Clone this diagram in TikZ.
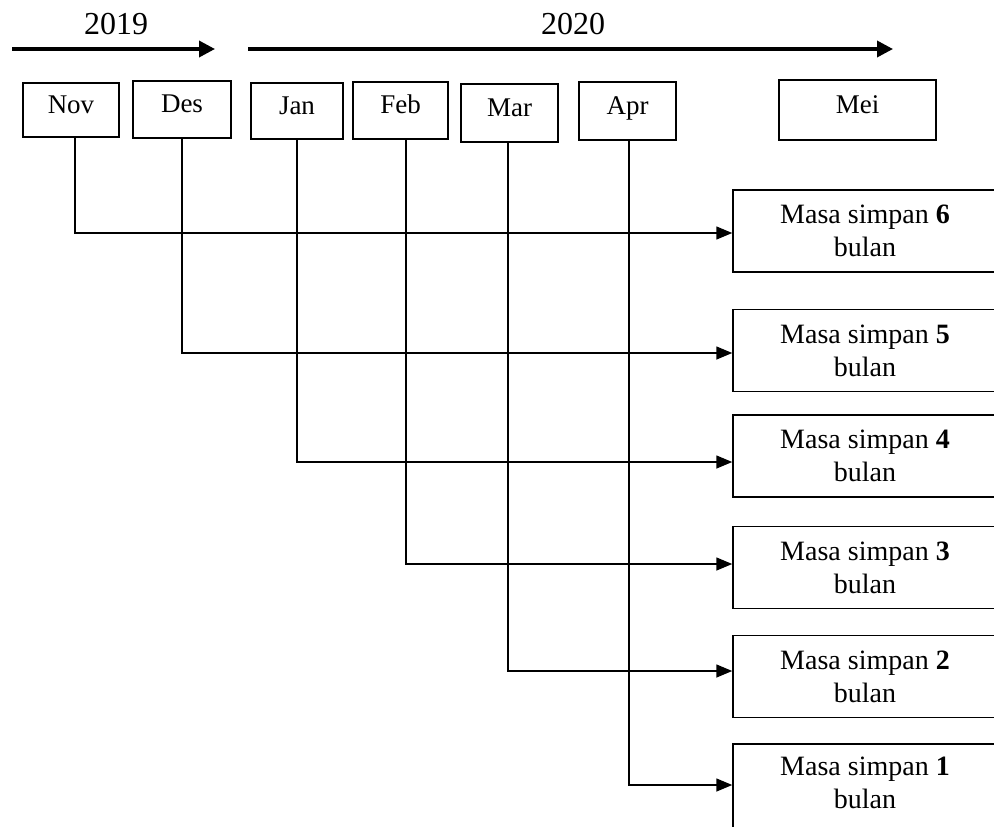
\documentclass[tikz,border=0pt]{standalone}
\usepackage{fontspec}
\setmainfont{Liberation Serif}
\usetikzlibrary{arrows.meta, positioning}

\begin{document}
\begin{tikzpicture}[
    x=1pt, y=-1pt,
    month/.style={rectangle, draw, line width=1.5pt, inner sep=0pt, text height=18pt, text depth=12pt, font=\fontsize{27}{32}\selectfont},
    shelf/.style={rectangle, draw, line width=1.5pt, inner sep=0pt, minimum width=264pt, minimum height=82pt, align=center, font=\fontsize{28}{33}\selectfont},
    year/.style={font=\fontsize{32}{36}\selectfont},
    arrow/.style={-{Triangle[length=16pt, width=13pt]}, line width=1.5pt},
    timeline/.style={-{Triangle[length=16pt, width=16pt]}, line width=3.5pt}
]
\useasboundingbox (0,0) rectangle (994,827);
\clip (0,0) rectangle (994,827);

% years
\node[year] (y2019) at (116,24) {2019};
\node[year] (y2020) at (573,24) {2020};
\coordinate (t19a) at (12,49);
\coordinate (t19b) at (215,49);
\coordinate (t20a) at (248,49);
\coordinate (t20b) at (893,49);
\draw[timeline] (t19a) -- (t19b);
\draw[timeline] (t20a) -- (t20b);

% months
\node[month, minimum width=96pt, minimum height=54pt] (nov) at (71,110) {Nov};
\node[month, minimum width=98pt, minimum height=57pt] (des) at (182,109.5) {Des};
\node[month, minimum width=92pt, minimum height=56pt] (jan) at (297,111) {Jan};
\node[month, minimum width=95pt, minimum height=57pt] (feb) at (400.5,110.5) {Feb};
\node[month, minimum width=97pt, minimum height=58pt] (mar) at (509.5,113) {Mar};
\node[month, minimum width=97pt, minimum height=58pt] (apr) at (627.5,111) {Apr};
\node[month, minimum width=157pt, minimum height=60pt] (mei) at (857.5,110) {Mei};

% shelf life
\node[shelf] (s6) at (865,231) {Masa simpan \textbf{6}\\ bulan};
\node[shelf] (s5) at (865,350.5) {Masa simpan \textbf{5}\\ bulan};
\node[shelf] (s4) at (865,456) {Masa simpan \textbf{4}\\ bulan};
\node[shelf] (s3) at (865,567.5) {Masa simpan \textbf{3}\\ bulan};
\node[shelf] (s2) at (865,676.5) {Masa simpan \textbf{2}\\ bulan};
\node[shelf, minimum height=90pt, text depth=12pt] (s1) at (865,789) {Masa simpan \textbf{1}\\ bulan};

\draw[arrow] ([xshift=4pt]nov.south) |- ([yshift=-2pt]s6.west);
\draw[arrow] (des.south) |- ([yshift=-2.5pt]s5.west);
\draw[arrow] (jan.south) |- ([yshift=-6pt]s4.west);
\draw[arrow] ([xshift=5.5pt]feb.south) |- ([yshift=3.5pt]s3.west);
\draw[arrow] ([xshift=-1.5pt]mar.south) |- ([yshift=5.5pt]s2.west);
\draw[arrow] ([xshift=1.5pt]apr.south) |- ([yshift=4pt]s1.west);

\end{tikzpicture}
\end{document}
